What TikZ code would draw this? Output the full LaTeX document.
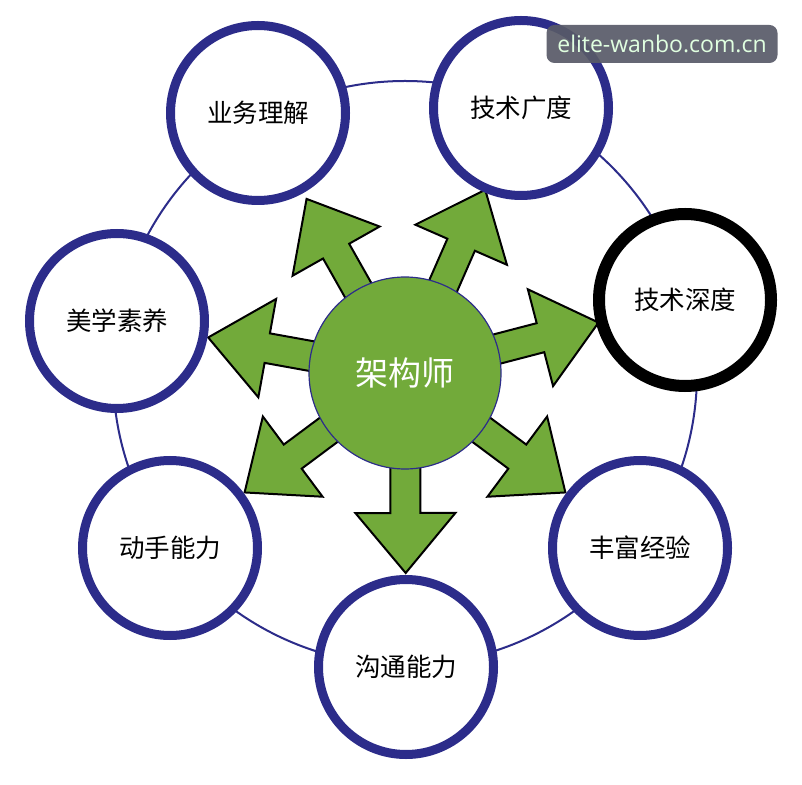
\documentclass[tikz,border=0pt]{standalone}
\usepackage{fontspec}
\setmainfont{Noto Sans CJK SC}
\newfontfamily\markfont{Open Sans}
\usetikzlibrary{calc}

\definecolor{ringblue}{RGB}{44,44,138}
\definecolor{leafgreen}{RGB}{114,170,58}
\definecolor{markgray}{RGB}{88,90,104}
\pgfdeclarelayer{back}
\pgfsetlayers{back,main}

\begin{document}
\begin{tikzpicture}[x = 0.5pt, y = 0.5pt, % one unit is one pixel
                semithick, % line style
                font = \fontsize{12.75pt}{15pt}\selectfont
            ]

            \tikzstyle{skill}=[draw = ringblue, circle, fill = white,
            line width = 4.5pt, minimum size = 87.5pt, inner sep = 0pt]
            \tikzstyle{bigarrow}=[draw = black, fill = leafgreen,
            line width = 1pt, line join = miter]

            \useasboundingbox (0,0) rectangle (802,-785);

            \node (arch) [circle, fill = leafgreen, draw = ringblue,
            line width = 0.6pt, minimum size = 96pt, text = white,
            font = \fontsize{16.5pt}{20pt}\selectfont] at (405,-373) {架构师};

            \node (biz) [skill] at (258,-113) {业务理解}; \node (wide) [skill]
            at (521,-108) {技术广度}; \node (deep) [skill, draw = black,
            line width = 6pt, minimum size = 86pt] at (685,-300) {技术深度};
            \node (aes) [skill] at (117,-321) {美学素养}; \node (hand) [skill]
            at (170,-548) {动手能力}; \node (exp) [skill] at (640,-548)
            {丰富经验}; \node (comm) [skill] at (406,-667) {沟通能力};

            \begin{pgfonlayer}{back}
            \draw[ringblue, line width = 1pt] (arch.center) circle[radius = 146pt];
            % block arrows, each aimed at its skill
            \foreach \t in {biz, wide, deep, aes, hand, exp, comm}
            \draw[bigarrow] ($(arch.center)!7.5pt!90:(\t.center)$)
            -- ($(arch.center)!70pt!(\t.center)!7.5pt!90:(\t.center)$)
            -- ($(arch.center)!70pt!(\t.center)!25pt!90:(\t.center)$)
            -- ($(arch.center)!100pt!(\t.center)$)
            -- ($(arch.center)!70pt!(\t.center)!25pt!-90:(\t.center)$)
            -- ($(arch.center)!70pt!(\t.center)!7.5pt!-90:(\t.center)$)
            -- ($(arch.center)!7.5pt!-90:(\t.center)$) -- cycle;
            \end{pgfonlayer}

            \node (mark) [fill = markgray, fill opacity = 0.92, text opacity = 1,
            text = white!88!green, rounded corners = 4pt, minimum width = 115.5pt,
            minimum height = 19pt, font = \markfont\fontsize{11.5pt}{13pt}\selectfont]
            at (662,-44) {elite-wanbo.com.cn};
\end{tikzpicture}
\end{document}
